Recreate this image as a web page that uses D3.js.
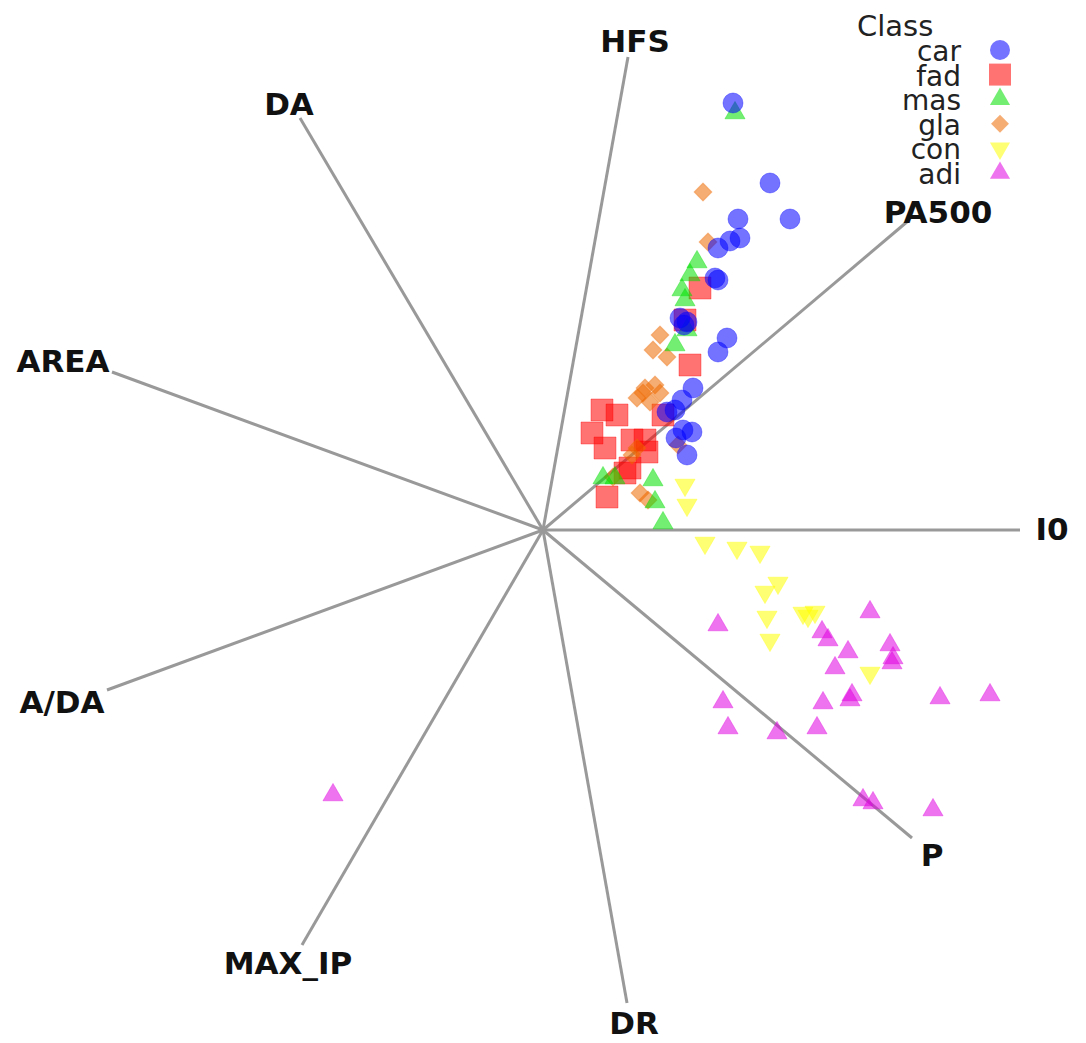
<!DOCTYPE html>
<html>
<head>
<meta charset="utf-8">
<script src="https://cdn.jsdelivr.net/npm/d3@7"></script>
<style>
  body { margin: 0; background: #fff; }
  svg { display: block; }
</style>
</head>
<body>
<div id="chart"></div>
<script>
// axis anchors of the radial projection (unit space, centre = 0,0)
const axisNames = ["I0", "PA500", "HFS", "DA", "AREA", "A/DA", "MAX_IP", "DR", "P"];
const axisX = [0.954, 0.730, 0.170, -0.486, -0.862, -0.872, -0.482, 0.168, 0.738];
const axisY = [0.000, 0.618, 0.946, 0.824, 0.316, -0.320, -0.830, -0.946, -0.616];

const classes = ["car", "fad", "mas", "gla", "con", "adi"];

// projected points per class [x, y]
const car = [
  [0.380, 0.854], [0.454, 0.694], [0.494, 0.622], [0.390, 0.622], [0.394, 0.584],
  [0.374, 0.578], [0.350, 0.564], [0.344, 0.504], [0.350, 0.500], [0.274, 0.424],
  [0.288, 0.416], [0.282, 0.410], [0.368, 0.384], [0.350, 0.356], [0.300, 0.284],
  [0.278, 0.260], [0.264, 0.240], [0.280, 0.200], [0.298, 0.196], [0.266, 0.184],
  [0.288, 0.150], [0.248, 0.236]
];
const fad = [
  [0.314, 0.484], [0.284, 0.420], [0.294, 0.330], [0.118, 0.240], [0.148, 0.230],
  [0.098, 0.194], [0.124, 0.164], [0.178, 0.180], [0.204, 0.180], [0.208, 0.156],
  [0.174, 0.124], [0.164, 0.114], [0.128, 0.066], [0.240, 0.230]
];
const mas = [
  [0.384, 0.834], [0.308, 0.536], [0.294, 0.510], [0.278, 0.480], [0.284, 0.460],
  [0.288, 0.400], [0.264, 0.370], [0.220, 0.100], [0.120, 0.104], [0.240, 0.014],
  [0.224, 0.056], [0.144, 0.104]
];
const gla = [
  [0.320, 0.676], [0.330, 0.576], [0.234, 0.390], [0.220, 0.360], [0.248, 0.346],
  [0.200, 0.274], [0.224, 0.290], [0.188, 0.264], [0.234, 0.274], [0.214, 0.256],
  [0.270, 0.170], [0.194, 0.074], [0.210, 0.060], [0.178, 0.150], [0.188, 0.164],
  [0.140, 0.106], [0.204, 0.284]
];
const con = [
  [0.284, 0.090], [0.288, 0.050], [0.324, -0.026], [0.388, -0.036], [0.434, -0.044],
  [0.470, -0.106], [0.444, -0.124], [0.448, -0.174], [0.454, -0.220], [0.520, -0.166],
  [0.544, -0.164], [0.530, -0.172], [0.654, -0.286]
];
const adi = [
  [0.350, -0.190], [0.654, -0.164], [0.558, -0.204], [0.570, -0.220], [0.610, -0.244],
  [0.584, -0.276], [0.694, -0.230], [0.698, -0.266], [0.700, -0.256], [0.360, -0.344],
  [0.560, -0.346], [0.618, -0.330], [0.614, -0.340], [0.794, -0.336], [0.894, -0.330],
  [0.370, -0.396], [0.468, -0.406], [0.548, -0.396], [0.640, -0.540], [0.660, -0.546],
  [0.780, -0.560], [-0.420, -0.530]
];

const width = 1086, height = 1043;

// styling per class
const style = {
  car: {color: "#0000ff", type: d3.symbolCircle, size: 314, rot: 0},
  fad: {color: "#ff0000", type: d3.symbolSquare, size: 484, rot: 0},
  mas: {color: "#00e000", type: d3.symbolTriangle, size: 175, rot: 0},
  gla: {color: "#ee6a00", type: d3.symbolSquare, size: 160, rot: 45},
  con: {color: "#ffff00", type: d3.symbolTriangle, size: 175, rot: 180},
  adi: {color: "#e000e0", type: d3.symbolTriangle, size: 175, rot: 0}
};

// label offsets (px) from each axis end
const labelOffset = [[32, 10], [30, 2], [7, -5], [-11, -3], [-49, 0], [-45, 23], [-14, 29], [7, 31], [20, 28]];

const svg = d3.select("#chart").append("svg")
  .attr("width", width)
  .attr("height", height);

const x = d3.scaleLinear().domain([-1, 1]).range([43, 1043]);
const y = d3.scaleLinear().domain([-1, 1]).range([1030, 30]);

// axes
const axes = axisNames.map((name, i) => ({name, x: axisX[i], y: axisY[i], off: labelOffset[i]}));

svg.append("g").selectAll("line")
  .data(axes)
  .enter().append("line")
    .attr("x1", x(0)).attr("y1", y(0))
    .attr("x2", d => x(d.x)).attr("y2", d => y(d.y))
    .attr("stroke", "#999")
    .attr("stroke-width", 3);

svg.append("g").selectAll("text")
  .data(axes)
  .enter().append("text")
    .attr("x", d => x(d.x) + d.off[0])
    .attr("y", d => y(d.y) + d.off[1])
    .attr("text-anchor", "middle")
    .attr("font-family", "DejaVu Sans")
    .attr("font-weight", "bold")
    .attr("font-size", 31)
    .attr("fill", "#111")
    .text(d => d.name);

// points
const dataByClass = {car, fad, mas, gla, con, adi};
const drawOrder = ["adi", "con", "fad", "gla", "mas", "car"];

drawOrder.forEach(cls => {
  const s = style[cls];
  const sym = d3.symbol().type(s.type).size(s.size);
  svg.append("g").selectAll("path")
    .data(dataByClass[cls])
    .enter().append("path")
      .attr("d", sym)
      .attr("transform", d => `translate(${x(d[0])},${y(d[1])}) rotate(${s.rot})`)
      .attr("fill", s.color)
      .attr("fill-opacity", 0.55)
      .attr("stroke", s.color)
      .attr("stroke-opacity", 0.35)
      .attr("stroke-width", 1);
});

// legend
const legend = svg.append("g").attr("font-family", "DejaVu Sans").attr("fill", "#222");
legend.append("text")
  .attr("x", 857).attr("y", 36)
  .attr("font-size", 29)
  .text("Class");

classes.forEach((cls, i) => {
  const s = style[cls];
  const cy = 50 + i * 24.6;
  legend.append("text")
    .attr("x", 961).attr("y", cy + 11)
    .attr("text-anchor", "end")
    .attr("font-size", 28)
    .text(cls);
  legend.append("path")
    .attr("d", d3.symbol().type(s.type).size(s.size)())
    .attr("transform", `translate(1000,${cy}) rotate(${s.rot})`)
    .attr("fill", s.color)
    .attr("fill-opacity", 0.55);
});
</script>
</body>
</html>
